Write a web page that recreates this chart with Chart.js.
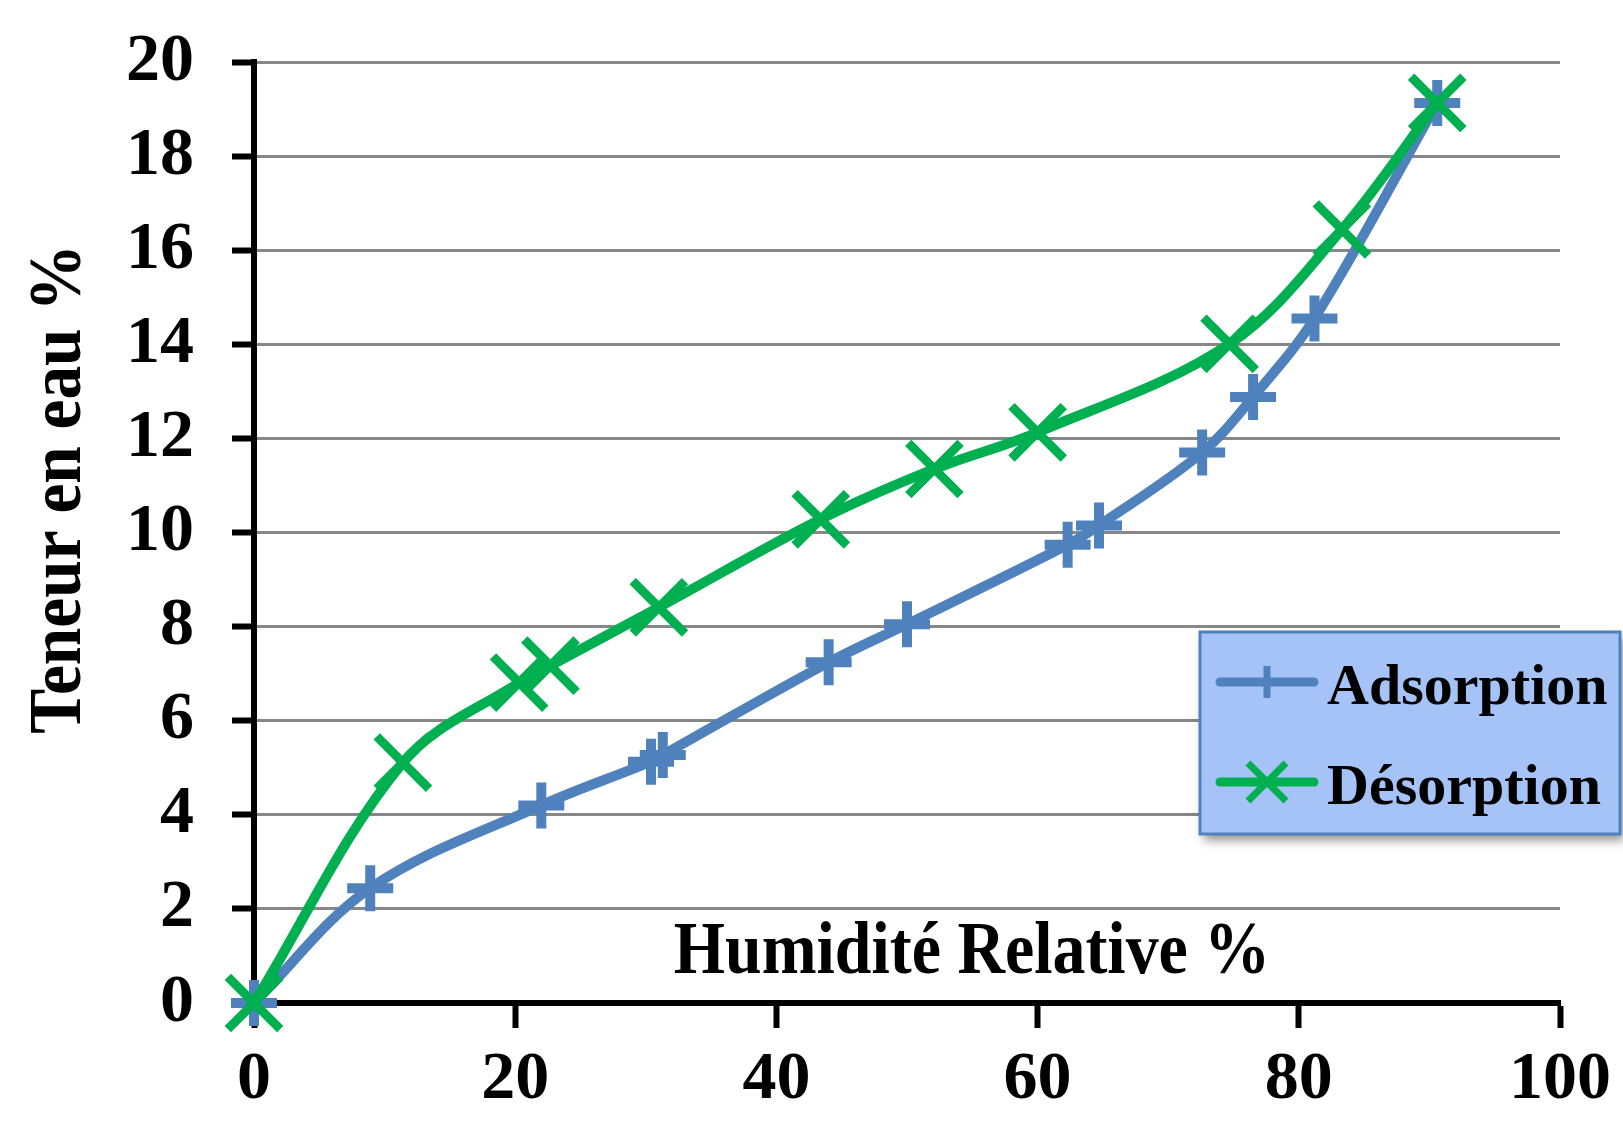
<!DOCTYPE html>
<html>
<head>
<meta charset="utf-8">
<script src="https://cdn.jsdelivr.net/npm/chart.js@4.4.0/dist/chart.umd.min.js"></script>
<style>
  html, body { margin: 0; padding: 0; background: #fff; }
  #wrap { width: 1623px; height: 1124px; }
</style>
</head>
<body>
<div id="wrap"><canvas id="chart"></canvas></div>
<script>
// values
const adsorptionX = [0, 8.9, 22.0, 30.4, 31.3, 44.0, 50.0, 62.3, 64.7, 72.6, 76.5, 81.2, 90.6];
const adsorptionY = [0, 2.44, 4.2, 5.13, 5.27, 7.24, 8.05, 9.74, 10.15, 11.7, 12.88, 14.55, 19.13];
const desorptionX = [0, 11.4, 20.3, 22.7, 31.0, 43.4, 52.1, 60.0, 74.7, 83.3, 90.6];
const desorptionY = [0, 5.11, 6.81, 7.17, 8.41, 10.28, 11.35, 12.13, 14.01, 16.44, 19.13];
const xTicks = [0, 20, 40, 60, 80, 100];
const yTicks = [0, 2, 4, 6, 8, 10, 12, 14, 16, 18, 20];
const seriesNames = ['Adsorption', 'Désorption'];
const xTitle = 'Humidité Relative %';
const yTitle = 'Teneur en eau %';

const BLUE = '#4f81bd';
const GREEN = '#00b050';
const FONT = '"Liberation Serif", "Times New Roman", serif';

const toPoints = (xs, ys) => xs.map((x, i) => ({ x: x, y: ys[i] }));

// titles + legend box drawn on top, Excel style
const overlay = {
  id: 'overlay',
  afterDraw(chart) {
    const { ctx, chartArea: a } = chart;
    ctx.save();
    ctx.fillStyle = '#000';
    ctx.font = 'bold 74px ' + FONT;
    ctx.textAlign = 'center';
    ctx.textBaseline = 'alphabetic';

    ctx.save();
    ctx.translate(972, 973);
    ctx.scale(0.89, 1);
    ctx.fillText(xTitle, 0, 0);
    ctx.restore();

    ctx.save();
    ctx.translate(80, 489);
    ctx.rotate(-Math.PI / 2);
    ctx.scale(0.91, 1);
    ctx.fillText(yTitle, 0, 0);
    ctx.restore();

    // legend
    const bx = a.right - 360, by = a.top + 570, bw = 420, bh = 202;
    ctx.save();
    ctx.shadowColor = 'rgba(0,0,0,0.45)';
    ctx.shadowBlur = 10;
    ctx.shadowOffsetX = 4;
    ctx.shadowOffsetY = 6;
    ctx.fillStyle = '#a5c3f7';
    ctx.fillRect(bx, by, bw, bh);
    ctx.restore();
    ctx.strokeStyle = BLUE;
    ctx.lineWidth = 3;
    ctx.strokeRect(bx, by, bw, bh);

    chart.data.datasets.forEach((ds, i) => {
      const cy = by + 50 + i * 100;
      const cx = bx + 67;
      ctx.strokeStyle = ds.borderColor;
      ctx.lineWidth = 9;
      ctx.lineCap = 'round';
      ctx.beginPath();
      ctx.moveTo(bx + 20, cy);
      ctx.lineTo(bx + 114, cy);
      ctx.stroke();
      ctx.lineCap = 'butt';
      ctx.lineWidth = 7;
      ctx.beginPath();
      if (ds.pointStyle === 'cross') {
        ctx.moveTo(cx, cy - 16); ctx.lineTo(cx, cy + 16);
      } else {
        const r = 19;
        ctx.moveTo(cx - r, cy - r); ctx.lineTo(cx + r, cy + r);
        ctx.moveTo(cx - r, cy + r); ctx.lineTo(cx + r, cy - r);
      }
      ctx.stroke();

      ctx.fillStyle = '#000';
      ctx.font = 'bold 58px ' + FONT;
      ctx.textAlign = 'left';
      ctx.fillText(ds.label, bx + 127, cy + 22);
    });
    ctx.restore();
  }
};

new Chart(document.getElementById('chart'), {
  type: 'line',
  data: {
    datasets: [
      {
        label: seriesNames[0],
        data: toPoints(adsorptionX, adsorptionY),
        borderColor: BLUE,
        backgroundColor: BLUE,
        borderWidth: 10,
        tension: 0.35,
        pointStyle: 'cross',
        pointRadius: 23,
        pointBorderWidth: 10,
        pointBorderColor: BLUE,
        clip: false,
        order: 1
      },
      {
        label: seriesNames[1],
        data: toPoints(desorptionX, desorptionY),
        borderColor: GREEN,
        backgroundColor: GREEN,
        borderWidth: 10,
        tension: 0.35,
        pointStyle: 'crossRot',
        pointRadius: 37,
        pointBorderWidth: 9,
        pointBorderColor: GREEN,
        clip: false,
        order: 0
      }
    ]
  },
  options: {
    responsive: true,
    maintainAspectRatio: false,
    animation: false,
    layout: { padding: { top: 62, right: 63, left: 0, bottom: 0 } },
    plugins: {
      legend: { display: false },
      tooltip: { enabled: false }
    },
    scales: {
      x: {
        type: 'linear',
        min: 0,
        max: 100,
        afterBuildTicks: (s) => { s.ticks = xTicks.map(v => ({ value: v })); },
        afterFit: (s) => { s.height = 121; s.paddingLeft = 0; s.paddingRight = 0; },
        grid: {
          drawOnChartArea: false,
          drawTicks: true,
          tickLength: 25,
          tickWidth: 6,
          tickColor: '#000'
        },
        border: { display: true, color: '#000', width: 6 },
        ticks: {
          color: '#000',
          padding: 12,
          maxRotation: 0,
          font: { family: FONT, size: 68, weight: 'bold' }
        }
      },
      y: {
        min: 0,
        max: 20,
        afterBuildTicks: (s) => { s.ticks = yTicks.map(v => ({ value: v })); },
        afterFit: (s) => { s.width = 254; s.paddingTop = 0; s.paddingBottom = 0; },
        grid: {
          color: '#878787',
          lineWidth: 3,
          drawTicks: true,
          tickLength: 22,
          tickWidth: 6,
          tickColor: '#000'
        },
        border: { display: true, color: '#000', width: 6 },
        ticks: {
          color: '#000',
          padding: 38,
          font: { family: FONT, size: 68, weight: 'bold' }
        }
      }
    }
  },
  plugins: [overlay]
});
</script>
</body>
</html>
